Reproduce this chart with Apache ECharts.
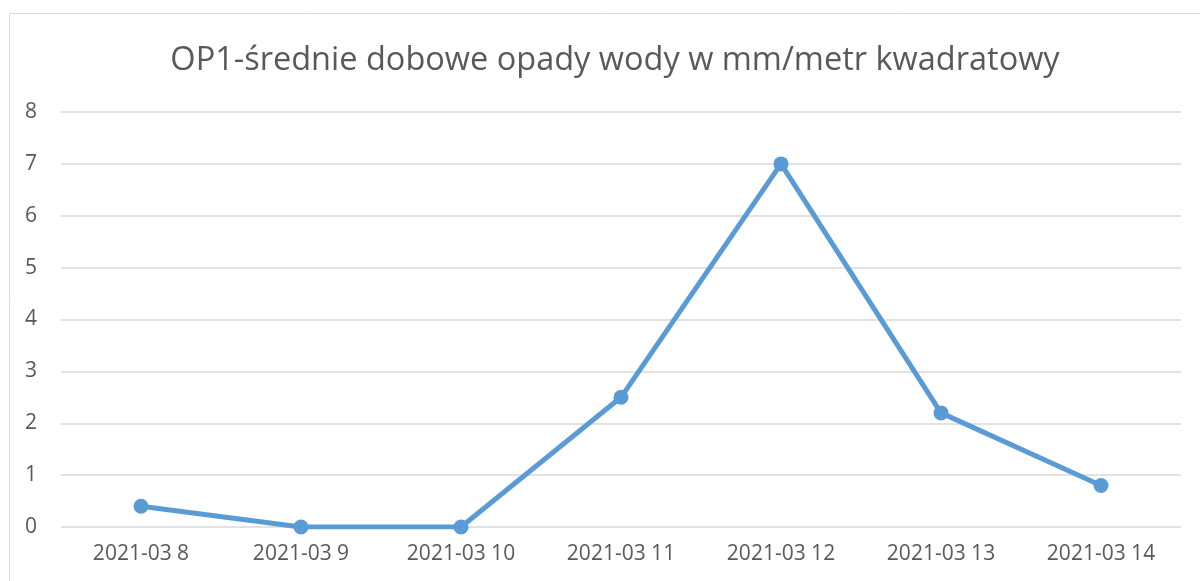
<!DOCTYPE html>
<html>
<head>
<meta charset="utf-8">
<script src="https://cdn.jsdelivr.net/npm/echarts@6/dist/echarts.min.js"></script>
<style>
  html, body { margin: 0; padding: 0; background: #fff; }
  #chart { width: 1200px; height: 581px; }
</style>
</head>
<body>
<div id="chart"></div>
<script>
const titleText = 'OP1-średnie dobowe opady wody w mm/metr kwadratowy';
const categories = ['2021-03 8', '2021-03 9', '2021-03 10', '2021-03 11', '2021-03 12', '2021-03 13', '2021-03 14'];
const rainfall = [0.4, 0, 0, 2.5, 7, 2.2, 0.8];
const yTicks = [0, 1, 2, 3, 4, 5, 6, 7, 8];

const textColor = '#595959';
const fontFam = 'Open Sans, Liberation Sans, sans-serif';

const chart = echarts.init(document.getElementById('chart'));

chart.setOption({
    backgroundColor: '#fff',
    animation: false,
    graphic: [{
        type: 'rect',
        shape: { x: 9.5, y: 13.5, width: 1300, height: 700 },
        style: { fill: 'none', stroke: '#d9d9d9', lineWidth: 1 },
        silent: true
    }],
    title: {
        text: titleText,
        left: 610,
        textAlign: 'center',
        top: 39,
        textStyle: {
            color: textColor,
            fontSize: 32.5,
            fontWeight: 'normal',
            fontFamily: fontFam
        }
    },
    grid: {
        left: 61,
        right: 19,
        top: 112,
        bottom: 54,
        containLabel: false
    },
    xAxis: {
        type: 'category',
        data: categories,
        boundaryGap: true,
        axisLine: { show: false },
        axisTick: { show: false },
        axisLabel: {
            color: textColor,
            fontSize: 21,
            fontFamily: fontFam,
            margin: 17,
            interval: 0
        }
    },
    yAxis: {
        type: 'value',
        min: yTicks[0],
        max: yTicks[yTicks.length - 1],
        interval: 1,
        axisLine: { show: false },
        axisTick: { show: false },
        axisLabel: {
            color: textColor,
            fontSize: 21,
            fontFamily: fontFam,
            margin: 24
        },
        splitLine: { lineStyle: { color: '#d9d9d9', width: 1.5 } }
    },
    series: [{
        type: 'line',
        data: rainfall,
        symbol: 'circle',
        symbolSize: 15,
        lineStyle: { color: '#5b9bd5', width: 5 },
        itemStyle: { color: '#5b9bd5' }
    }]
});
</script>
</body>
</html>
